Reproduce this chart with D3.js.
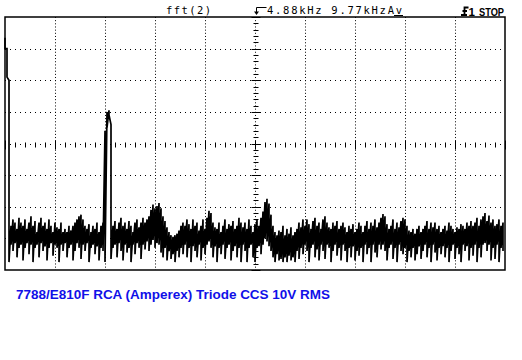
<!DOCTYPE html>
<html>
<head>
<meta charset="utf-8">
<script src="https://cdn.jsdelivr.net/npm/d3@7"></script>
<style>
  body { margin: 0; background: #fff; }
  svg { display: block; }
</style>
</head>
<body>
<svg id="scope" width="522" height="360"></svg>
<script>
// Settaggi strumento
const spanKHz = 9.77;
const centreKHz = 4.88;
const binCount = 250;
const mathLabel = "fft(2)";
const triggerLabel = "1";
const runLabel = "STOP";
const caption = "7788/E810F RCA (Amperex) Triode CCS 10V RMS";

// livello superiore / inferiore della traccia per ogni bin (dB, 10 dB/div)
const traceTop = [
  -6.6, -10, -20, -66, -64, -65, -67, -63.5, -65, -66,
  -64, -67, -65, -63, -66, -64.5, -68, -65, -63.5, -66,
  -65, -67, -64, -66, -68, -65, -66.5, -67, -65, -68,
  -67, -68, -66, -67.5, -66, -65, -64, -63, -62.5, -64,
  -66, -67, -65.5, -68, -66, -67, -65, -68, -66, -65,
  -36, -30, -29.5, -34, -66, -64.5, -67, -65, -63.5, -66,
  -65, -67, -64.5, -66, -68, -65, -64, -66.5, -65, -63.5,
  -65, -64, -63, -61, -59.3, -60.5, -59.8, -58.8, -60.5, -63,
  -64.5, -66.5, -68, -69, -69.5, -69, -68.5, -67.5, -66, -65,
  -66, -64, -65.5, -67, -64, -66, -65, -67.5, -66, -64,
  -67, -63.5, -61.3, -62, -65, -66.5, -67, -65, -68, -66,
  -64, -67, -65.5, -66, -64.5, -67, -66, -63.5, -65, -66.5,
  -65, -67, -64, -66, -68, -65.5, -64, -66, -63.5, -61.5,
  -58.5, -57.5, -59, -62.5, -66, -68, -69, -67.5, -68, -66,
  -69, -67, -68.5, -66.5, -69, -68, -67, -65, -66.5, -64,
  -66, -64, -65.5, -67, -64.5, -63.5, -66, -65, -67, -64,
  -63, -65, -66.5, -67, -65, -66, -64.5, -67, -66, -65,
  -66.5, -68, -66, -67, -65.5, -68, -67, -65, -66, -68,
  -66, -64.5, -67, -65, -66, -64, -66.5, -65, -63.5, -62.3,
  -63, -65.5, -67, -66, -64, -67, -65, -66.5, -64.5, -63.5,
  -64, -66, -67.5, -68, -67, -68.5, -67, -66, -68, -67,
  -66, -64.5, -67, -65, -66.5, -65, -67, -66, -68, -67,
  -66, -67.5, -65, -66, -67, -68, -66.5, -67, -65.5, -66,
  -67, -65, -66, -64.5, -66, -65, -63.5, -66, -64, -63,
  -62, -64.5, -62.8, -65, -64, -66, -65.5, -64, -66, -65
];
const traceBottom = [
  -10, -19, -77.5, -72, -74, -71.5, -76, -73, -72, -77,
  -73, -71.5, -75, -72, -77.5, -73, -72, -76, -71.5, -74,
  -72.5, -77, -73, -71.5, -75.5, -72, -73, -77.5, -72, -74,
  -71.5, -76, -73, -72, -77, -74, -71.5, -73, -76.5, -72,
  -74, -71.5, -77.5, -73, -72, -75, -72.5, -77, -73, -74,
  -77.5, -35, -31, -76.5, -73, -72, -76, -71.5, -74, -77,
  -72, -74.5, -73, -77.5, -72, -75, -71.5, -73, -76.5, -72,
  -73.5, -71, -74, -72, -70.5, -73, -71.5, -72, -74.5, -76,
  -73, -77, -74, -76.5, -75, -77.5, -74, -76, -73, -75,
  -72, -76, -73, -77.5, -72.5, -74, -76, -72, -77, -73,
  -75, -72, -71, -73, -76, -72.5, -77.5, -73, -75, -72,
  -76.5, -73, -72, -77, -74, -72.5, -76, -73, -77.5, -72,
  -74, -77.5, -73, -72, -76, -77.5, -73, -72.5, -75, -72,
  -70, -71, -72.5, -74, -76, -77.5, -75, -77, -76.5, -77.5,
  -76, -77.5, -75.5, -77, -76, -77.5, -74, -76.5, -73, -75,
  -72, -74, -77.5, -73, -72, -76, -73.5, -77, -72, -74,
  -76.5, -72, -73, -77.5, -74, -72, -75.5, -73, -77, -72,
  -74, -77.5, -73, -76, -72.5, -77, -74, -75.5, -73, -77.5,
  -72, -75, -73, -77.5, -72, -74.5, -76, -72, -73.5, -72,
  -74, -77, -73, -72, -76.5, -73, -77.5, -72, -74, -75,
  -73, -77.5, -74, -76, -73, -77, -75, -72.5, -76.5, -74,
  -72, -76, -73, -77.5, -72, -74.5, -77, -73, -75, -72.5,
  -76, -73, -77.5, -74, -72, -76.5, -73, -75, -77.5, -72,
  -74, -72.5, -77, -73, -75.5, -72, -77.5, -73, -76, -72,
  -71.5, -74, -72, -77, -73, -76.5, -72, -77.5, -73, -74
];

const svg = d3.select('#scope');
const plot = {left: 5, right: 505, top: 17, bottom: 270};
const xDivs = 10, yDivs = 8, dbPerDiv = 10;

const xScale = d3.scaleLinear()
  .domain([0, spanKHz])
  .range([plot.left, plot.right]);
const yScale = d3.scaleLinear()
  .domain([-dbPerDiv * yDivs, 0])
  .range([plot.bottom, plot.top]);

const crisp = v => Math.round(v) + 0.5;
const grid = svg.append('g');

// griglia punteggiata
d3.range(1, xDivs).forEach(k => {
  const gx = crisp(xScale(k * spanKHz / xDivs));
  grid.append('line')
    .attr('x1', gx).attr('x2', gx)
    .attr('y1', plot.top).attr('y2', plot.bottom)
    .attr('stroke', '#000')
    .attr('stroke-dasharray', '1 2.16');
});
d3.range(1, yDivs).forEach(k => {
  const gy = crisp(yScale(-k * dbPerDiv));
  grid.append('line')
    .attr('x1', plot.left).attr('x2', plot.right)
    .attr('y1', gy).attr('y2', gy)
    .attr('stroke', '#000')
    .attr('stroke-dasharray', '1 4');
});

// assi centrali con tacche
const cx = crisp(xScale(spanKHz / 2));
const cy = crisp(yScale(-dbPerDiv * yDivs / 2));
d3.range(0, yDivs * 5 + 1).forEach(k => {
  const ty = crisp(plot.bottom - k * (plot.bottom - plot.top) / (yDivs * 5));
  const half = k % 5 === 0 ? 4 : 2;
  grid.append('line')
    .attr('x1', cx - half).attr('x2', cx + half + 1)
    .attr('y1', ty).attr('y2', ty)
    .attr('stroke', '#000');
});
d3.range(0, xDivs * 5 + 1).forEach(k => {
  const tx = crisp(plot.left + k * (plot.right - plot.left) / (xDivs * 5));
  const half = k % 5 === 0 ? 4 : 2;
  grid.append('line')
    .attr('x1', tx).attr('x2', tx)
    .attr('y1', cy - half).attr('y2', cy + half + 1)
    .attr('stroke', '#000');
});

// traccia fft
const points = [];
traceTop.forEach((d, i) => {
  const f = i * spanKHz / binCount;
  points.push([xScale(f), yScale(d)]);
  points.push([xScale(f), yScale(traceBottom[i])]);
});
const lineGenerator = d3.line();
svg.append('path')
  .attr('d', lineGenerator(points))
  .attr('fill', 'none')
  .attr('stroke', '#000')
  .attr('stroke-width', 1.7)
  .attr('stroke-linejoin', 'miter');

// cornice
svg.append('rect')
  .attr('x', plot.left).attr('y', plot.top)
  .attr('width', plot.right - plot.left)
  .attr('height', plot.bottom - plot.top)
  .attr('fill', 'none')
  .attr('stroke', '#000')
  .attr('stroke-width', 1.5);

// intestazione
const mono = 'DejaVu Sans Mono, monospace';
svg.append('text')
  .attr('x', 166).attr('y', 13.5)
  .attr('font-family', mono).attr('font-size', 10.5)
  .attr('textLength', 45).attr('lengthAdjust', 'spacing')
  .text(mathLabel);

svg.append('path')
  .attr('d', 'M266.5,7.5 H256.5 V12')
  .attr('fill', 'none').attr('stroke', '#000');
svg.append('path')
  .attr('d', 'M254,11.5 L259,11.5 L256.5,15 Z')
  .attr('fill', '#000');

svg.append('text')
  .attr('x', 267).attr('y', 13.5)
  .attr('font-family', mono).attr('font-size', 10.5)
  .attr('textLength', 135).attr('lengthAdjust', 'spacing')
  .text(`${centreKHz}kHz ${spanKHz}kHzAv`);
svg.append('line')
  .attr('x1', 394).attr('x2', 403)
  .attr('y1', 15.5).attr('y2', 15.5)
  .attr('stroke', '#000');

// simbolo trigger e stato
svg.append('path')
  .attr('d', 'M461,15 H467 M464.5,15 V7.5 H468.5 M462.5,11 H467')
  .attr('fill', 'none').attr('stroke', '#000').attr('stroke-width', 1.8);
svg.append('text')
  .attr('x', 468.5).attr('y', 15.5)
  .attr('font-family', 'Liberation Sans, Arial, sans-serif')
  .attr('font-weight', 'bold').attr('font-size', 11.5)
  .text(triggerLabel);
svg.append('text')
  .attr('x', 479).attr('y', 15.5)
  .attr('font-family', 'Liberation Sans, Arial, sans-serif')
  .attr('font-weight', 'bold').attr('font-size', 11.5)
  .attr('textLength', 25).attr('lengthAdjust', 'spacingAndGlyphs')
  .text(runLabel);

// didascalia
svg.append('text')
  .attr('x', 16).attr('y', 299)
  .attr('font-family', 'Liberation Sans, Arial, sans-serif')
  .attr('font-weight', 'bold').attr('font-size', 12.5)
  .attr('fill', '#1010e8')
  .attr('textLength', 314).attr('lengthAdjust', 'spacingAndGlyphs')
  .text(caption);
</script>
</body>
</html>
